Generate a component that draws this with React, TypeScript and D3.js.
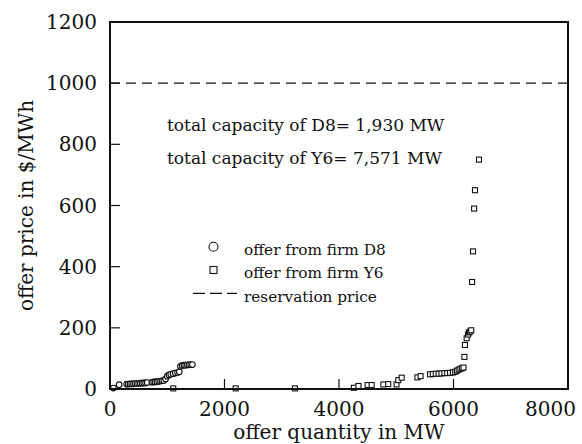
import React from "react";
import * as d3 from "d3";

// Offer curve of firm D8: [quantity MW, price $/MWh]
const offersD8: [number, number][] = [
  [60, 3], [160, 14],
  [290, 16], [320, 16], [350, 17], [380, 17], [410, 17], [440, 18], [470, 18],
  [500, 18], [530, 19], [560, 19], [590, 20], [620, 20], [650, 21],
  [730, 22], [760, 23], [790, 23], [820, 24], [850, 25], [880, 26], [910, 27],
  [940, 28], [970, 33], [1000, 42], [1030, 46], [1060, 48], [1100, 50],
  [1140, 52], [1180, 54], [1210, 56],
  [1230, 74], [1260, 77], [1290, 78], [1320, 78], [1350, 79], [1380, 79],
  [1410, 80], [1440, 80],
];

// Offer curve of firm Y6: [quantity MW, price $/MWh]
const offersY6: [number, number][] = [
  [1105, 2], [2195, 2], [3230, 2],
  [4260, 4], [4340, 10], [4500, 13], [4570, 13], [4775, 15], [4860, 16],
  [5005, 15], [5035, 29], [5095, 37], [5370, 38], [5425, 42],
  [5590, 48], [5640, 49], [5690, 50], [5740, 50], [5790, 51], [5840, 52],
  [5890, 52], [5940, 53], [5990, 54], [6030, 56], [6060, 60], [6090, 63],
  [6120, 66], [6150, 68], [6175, 70],
  [6190, 105], [6200, 144], [6230, 166], [6255, 178], [6270, 185],
  [6290, 188], [6310, 192],
  [6325, 350], [6340, 450], [6360, 590], [6375, 650], [6445, 750],
];

const reservationPrice = 1000;
const xTicks = [0, 2000, 4000, 6000, 8000];
const yTicks = [0, 200, 400, 600, 800, 1000, 1200];
const notes = ["total capacity of D8= 1,930 MW", "total capacity of Y6= 7,571 MW"];
const legendLabels = ["offer from firm D8", "offer from firm Y6", "reservation price"];

const W = 582;
const H = 444;
const left = 110;
const right = 568;
const top = 22;
const bottom = 389;
const FONT = "'DejaVu Serif', serif";
const tickFont = 20;
const digitWidth = 0.636 * tickFont;

export default function App() {
  const x = d3.scaleLinear().domain([0, 8000]).range([left, right]);
  const y = d3.scaleLinear().domain([0, 1200]).range([bottom, top]);
  const resLine = d3.line<number>()
    .x((d) => x(d))
    .y(() => y(reservationPrice));

  // keep the x tick labels inside the drawing area
  const xLabelPos = (t: number) => {
    const half = (String(t).length * digitWidth) / 2;
    return Math.min(x(t), W - 6 - half);
  };

  return (
    <svg
      width={W}
      height={H}
      style={{ position: "absolute", left: 0, top: 0, background: "#fff" }}
      fontFamily={FONT}
    >
      <rect x={0} y={0} width={W} height={H} fill="#fff" />

      {/* reservation price */}
      <path
        d={resLine([0, 8000]) ?? ""}
        fill="none"
        stroke="#111"
        strokeWidth={1.3}
        strokeDasharray="10,6"
      />

      {/* Y6 offers */}
      {offersY6.map(([q, p], i) => (
        <rect
          key={"y" + i}
          x={x(q) - 2.5}
          y={y(p) - 2.5}
          width={5}
          height={5}
          fill="#fff"
          stroke="#111"
          strokeWidth={1.1}
        />
      ))}

      {/* D8 offers */}
      {offersD8.map(([q, p], i) => (
        <circle
          key={"d" + i}
          cx={x(q)}
          cy={y(p)}
          r={2.8}
          fill="#fff"
          stroke="#111"
          strokeWidth={1.1}
        />
      ))}

      {/* frame */}
      <rect
        x={left}
        y={top}
        width={right - left}
        height={bottom - top}
        fill="none"
        stroke="#111"
        strokeWidth={2}
      />

      {/* y ticks and labels */}
      {yTicks.map((t) => (
        <g key={"yt" + t}>
          <line x1={left} x2={left + 10} y1={y(t)} y2={y(t)} stroke="#111" strokeWidth={1.2} />
          <text
            x={97}
            y={y(t)}
            textAnchor="end"
            dominantBaseline="central"
            fontSize={tickFont}
            fill="#111"
          >
            {t}
          </text>
        </g>
      ))}

      {/* x ticks and labels */}
      {xTicks.map((t) => (
        <g key={"xt" + t}>
          <line x1={x(t)} x2={x(t)} y1={bottom} y2={bottom - 10} stroke="#111" strokeWidth={1.2} />
          <text x={xLabelPos(t)} y={416} textAnchor="middle" fontSize={tickFont} fill="#111">
            {t}
          </text>
        </g>
      ))}

      {/* axis titles */}
      <text x={(left + right) / 2} y={439} textAnchor="middle" fontSize={20} fill="#111">
        offer quantity in MW
      </text>
      <text
        transform={`translate(33, ${(top + bottom) / 2}) rotate(-90)`}
        textAnchor="middle"
        fontSize={20}
        fill="#111"
      >
        offer price in $/MWh
      </text>

      {/* capacity notes */}
      {notes.map((n, i) => (
        <text key={"n" + i} x={167} y={131 + i * 32.5} fontSize={17} fill="#111">
          {n}
        </text>
      ))}

      {/* legend */}
      <circle cx={213.5} cy={246.7} r={4.5} fill="#fff" stroke="#111" strokeWidth={1.1} />
      <rect x={210} y={266.5} width={7} height={7} fill="#fff" stroke="#111" strokeWidth={1.1} />
      <line x1={193} x2={237} y1={293.3} y2={293.3} stroke="#111" strokeWidth={1.3} strokeDasharray="12,5" />
      {legendLabels.map((l, i) => (
        <text key={"l" + i} x={244} y={254.5 + i * 23.5} fontSize={15.3} fill="#111">
          {l}
        </text>
      ))}
    </svg>
  );
}
